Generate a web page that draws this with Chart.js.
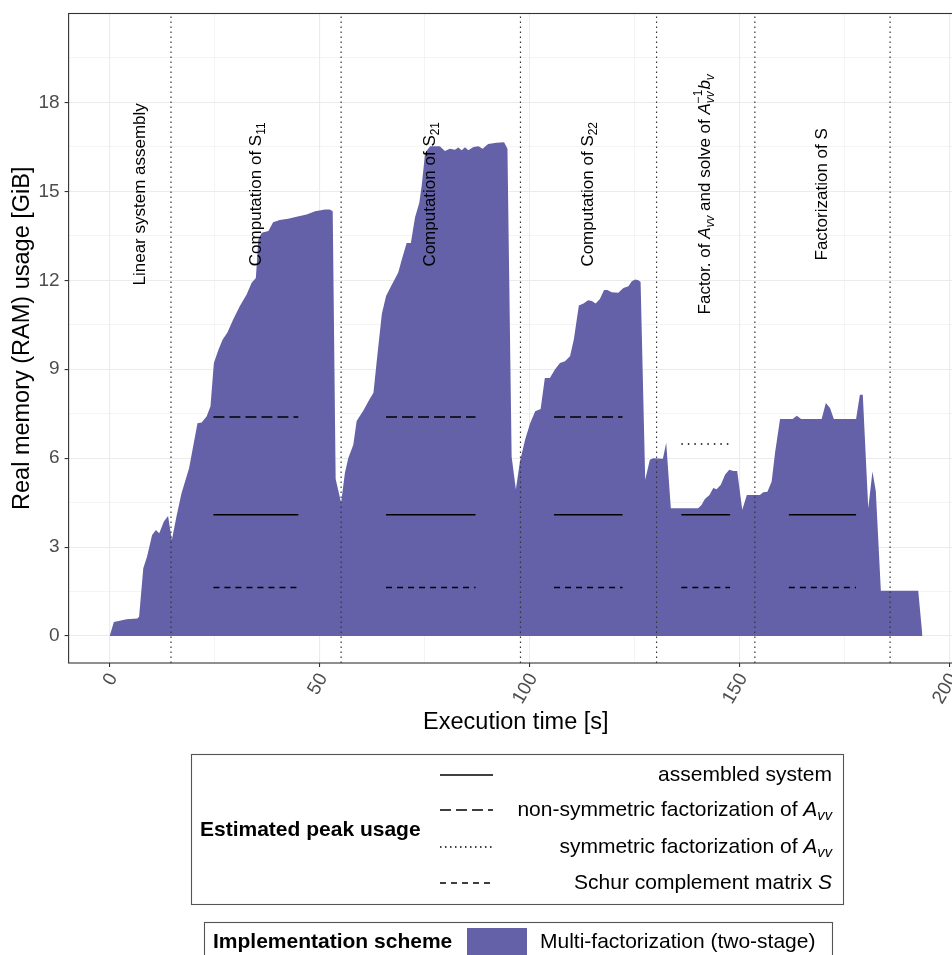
<!DOCTYPE html>
<html>
<head>
<meta charset="utf-8">
<script src="https://cdn.jsdelivr.net/npm/chart.js@4.4.0/dist/chart.umd.min.js"></script>
<style>
html,body{margin:0;padding:0;background:#fff;overflow:hidden;}
canvas{display:block;}
</style>
</head>
<body>
<canvas id="memChart" width="980" height="955"></canvas>
<script>
// memory trace
const timeS = [0.1, 1.1, 3.3, 4.1, 6.7, 7.1, 8.1, 9.0, 10.2, 11.1, 11.9, 13.0, 14.0, 14.9, 16.0, 17.2, 19.0, 21.0, 22.0, 23.2,
  24.1, 24.9, 26.0, 27.0, 28.1, 29.5, 31.1, 32.7, 33.9, 34.9, 35.5, 36.3, 37.9, 39.0, 40.6, 42.6, 44.6, 47.0, 49.0, 51.4,
  52.5, 53.2, 53.9, 55.2, 56.1, 56.9, 58.1, 58.9, 60.5, 61.9, 62.9, 63.7, 64.9, 65.9, 67.2, 68.8, 69.6, 70.8, 71.8, 72.8,
  73.8, 74.4, 75.2, 76.4, 78.7, 79.9, 81.1, 82.3, 83.1, 83.9, 84.7, 85.5, 86.7, 87.9, 88.9, 90.2, 92.2, 94.0, 94.8, 95.8,
  96.8, 97.8, 99.0, 100.2, 101.4, 102.7, 103.7, 104.9, 106.1, 107.3, 108.5, 109.7, 110.6, 111.8, 112.9, 114.0, 114.9, 115.8, 116.8, 117.8,
  118.6, 119.6, 121.2, 122.4, 123.6, 124.4, 125.2, 126.0, 126.5, 127.6, 128.7, 129.5, 131.8, 132.6, 133.7, 140.2, 141.0, 141.8, 142.9, 143.8,
  144.6, 145.6, 146.6, 147.6, 148.6, 149.5, 150.7, 151.8, 154.9, 155.7, 156.7, 157.7, 158.5, 159.7, 162.7, 163.7, 164.7, 169.6, 170.6, 171.6,
  172.5, 177.8, 178.7, 179.4, 180.7, 181.7, 182.5, 183.7, 192.6, 193.6];
const ramGiB = [0, 0.47, 0.54, 0.57, 0.59, 0.65, 2.29, 2.68, 3.41, 3.58, 3.47, 3.86, 4.05, 3.24, 4.03, 4.82, 5.66, 7.18, 7.2, 7.41,
  7.75, 9.21, 9.66, 10.0, 10.23, 10.68, 11.13, 11.52, 11.92, 12.08, 13.38, 13.6, 13.66, 13.96, 14.03, 14.08, 14.14, 14.22, 14.33, 14.39,
  14.39, 14.33, 5.3, 4.5, 5.5, 6.0, 6.45, 7.25, 7.61, 7.97, 8.21, 9.3, 10.87, 11.47, 11.83, 12.26, 12.68, 13.26, 13.26, 14.13,
  14.61, 15.21, 16.3, 16.52, 16.52, 16.36, 16.44, 16.4, 16.48, 16.39, 16.49, 16.39, 16.5, 16.52, 16.44, 16.6, 16.64, 16.66, 16.44, 6.05,
  4.95, 5.9, 6.62, 7.18, 7.58, 7.66, 8.7, 8.7, 8.99, 9.21, 9.27, 9.44, 10.0, 11.15, 11.22, 11.33, 11.3, 11.22, 11.37, 11.67,
  11.67, 11.6, 11.58, 11.74, 11.8, 11.97, 12.03, 12.0, 11.94, 5.27, 5.95, 6.0, 5.98, 6.52, 4.31, 4.31, 4.42, 4.62, 4.76, 4.99,
  4.95, 5.1, 5.44, 5.61, 5.57, 5.57, 4.26, 4.76, 4.76, 4.85, 4.87, 5.21, 6.17, 7.32, 7.32, 7.43, 7.32, 7.32, 7.86, 7.69,
  7.32, 7.32, 8.14, 8.14, 4.31, 5.55, 4.88, 1.53, 1.53, 0];

// phase boundaries (dotted verticals) and label positions
const phaseBounds = [14.7, 55.2, 97.9, 130.3, 153.7, 185.9];
const phaseLabelX = [7.3, 35.0, 76.5, 114.1, 142.0, 169.8];
const phaseLabelY = 14.9;
const phaseLabels = [
  [['Linear system assembly', '']],
  [['Computation of S', ''], ['11', 'b']],
  [['Computation of S', ''], ['21', 'b']],
  [['Computation of S', ''], ['22', 'b']],
  [['Factor. of ', ''], ['A', 'i'], ['vv', 'ib'], [' and solve of ', ''], ['A', 'i'], ['vv', 'ib'], ['\u22121', 'pk'], ['b', 'i'], ['v', 'ib']],
  [['Factorization of S', '']]
];

// estimated peak usage segments
const segStart = [24.8, 65.9, 105.9, 136.2, 161.8];
const segEnd = [45.0, 87.2, 122.2, 147.8, 177.8];
const peakAssembled = 4.09;
const peakNonSym = 7.39;
const peakSym = 6.48;
const peakSchur = 1.64;
const assembledSegs = [0, 1, 2, 3, 4];
const nonSymSegs = [0, 1, 2];
const symSegs = [3];
const schurSegs = [0, 1, 2, 3, 4];

const xTicks = [0, 50, 100, 150, 200];
const xMinor = [25, 75, 125, 175];
const yTicks = [0, 3, 6, 9, 12, 15, 18];
const yMinor = [1.5, 4.5, 7.5, 10.5, 13.5, 16.5, 19.5];
const xRange = [-9.68, 203.28];
const yRange = [-0.91, 21.0];

const FAMILY = '"Liberation Sans", Arial, Helvetica, sans-serif';
const FILL = '#6461a8';
Chart.defaults.font.family = FAMILY;

function segData(ids, v) {
  const out = [];
  ids.forEach(i => {
    out.push({x: segStart[i], y: v}, {x: segEnd[i], y: v}, {x: segEnd[i], y: null});
  });
  return out;
}

function layoutRich(ctx, parts, size) {
  let x = 0, prev = null;
  const items = [];
  for (const [t, f] of parts) {
    const small = f.includes('b') || f.includes('p');
    const fs = small ? size * 0.7 : size;
    const font = (f.includes('i') ? 'italic ' : '') + (f.includes('w') ? 'bold ' : '') + fs + 'px ' + FAMILY;
    ctx.font = font;
    const w = ctx.measureText(t).width;
    let sx = x;
    if (f.includes('k') && prev) {
      sx = prev.x;
      x = Math.max(prev.x + prev.w, sx + w);
    } else {
      x += w;
    }
    const dy = f.includes('b') ? size * 0.3 : f.includes('p') ? -size * 0.42 : 0;
    prev = {t, font, x: sx, w, dy};
    items.push(prev);
  }
  return {items, width: x};
}

function drawRich(ctx, parts, size, x, y, align, angle, color) {
  ctx.save();
  ctx.translate(x, y);
  ctx.rotate(angle || 0);
  const L = layoutRich(ctx, parts, size);
  const off = align === 'center' ? -L.width / 2 : align === 'right' ? -L.width : 0;
  ctx.fillStyle = color || '#000';
  ctx.textBaseline = 'middle';
  ctx.textAlign = 'left';
  for (const it of L.items) {
    ctx.font = it.font;
    ctx.fillText(it.t, off + it.x, it.dy);
  }
  ctx.restore();
}

const legendKeys = [
  {dash: [], label: [['assembled system', '']]},
  {dash: [11, 5], label: [['non-symmetric factorization of ', ''], ['A', 'i'], ['vv', 'ib']]},
  {dash: [1.5, 3.5], label: [['symmetric factorization of ', ''], ['A', 'i'], ['vv', 'ib']]},
  {dash: [6, 5], label: [['Schur complement matrix ', ''], ['S', 'i']]}
];

const decorPlugin = {
  id: 'decor',
  afterDatasetsDraw(chart) {
    const {ctx, chartArea: a, scales: {x, y}} = chart;
    phaseLabels.forEach((parts, i) => {
      drawRich(ctx, parts, 17, x.getPixelForValue(phaseLabelX[i]), y.getPixelForValue(phaseLabelY), 'center', -Math.PI / 2, '#000');
    });
    ctx.save();
    ctx.strokeStyle = '#333';
    ctx.lineWidth = 1.1;
    ctx.strokeRect(a.left, a.top, a.right - a.left, a.bottom - a.top);
    // x tick labels, rotated 60 degrees and anchored just right of the tick
    ctx.fillStyle = '#4d4d4d';
    ctx.font = '19px ' + FAMILY;
    ctx.textAlign = 'right';
    ctx.textBaseline = 'middle';
    xTicks.forEach(v => {
      ctx.save();
      ctx.translate(x.getPixelForValue(v) + 4, a.bottom + 12);
      ctx.rotate(-Math.PI / 3);
      ctx.fillText(String(v), 0, 0);
      ctx.restore();
    });
    ctx.restore();
  },
  afterDraw(chart) {
    const ctx = chart.ctx;
    ctx.save();
    // legend 1
    ctx.strokeStyle = '#555';
    ctx.lineWidth = 1.1;
    ctx.strokeRect(191.5, 754.5, 652, 150);
    drawRich(ctx, [['Estimated peak usage', 'w']], 21, 200, 830, 'left', 0, '#000');
    const ys = [775, 810, 847, 883];
    legendKeys.forEach((k, i) => {
      ctx.save();
      ctx.strokeStyle = '#000';
      ctx.lineWidth = 1.5;
      ctx.setLineDash(k.dash);
      ctx.beginPath();
      ctx.moveTo(440, ys[i]);
      ctx.lineTo(493, ys[i]);
      ctx.stroke();
      ctx.restore();
      drawRich(ctx, k.label, 21, 832, ys[i], 'right', 0, '#000');
    });
    // legend 2
    ctx.strokeStyle = '#555';
    ctx.strokeRect(204.5, 922.5, 628, 60);
    drawRich(ctx, [['Implementation scheme', 'w']], 21, 213, 942, 'left', 0, '#000');
    ctx.fillStyle = FILL;
    ctx.fillRect(467, 928, 60, 28);
    drawRich(ctx, [['Multi-factorization (two-stage)', '']], 21, 540, 942, 'left', 0, '#000');
    ctx.restore();
  }
};

const gridColor = '#ebebeb';

new Chart(document.getElementById('memChart'), {
  type: 'line',
  data: {
    datasets: [
      {
        label: 'assembled system',
        data: segData(assembledSegs, peakAssembled),
        borderColor: '#000', borderWidth: 1.5, pointRadius: 0, spanGaps: false, order: 0
      },
      {
        label: 'non-symmetric factorization',
        data: segData(nonSymSegs, peakNonSym),
        borderColor: '#000', borderWidth: 1.5, borderDash: [11, 5], pointRadius: 0, spanGaps: false, order: 0
      },
      {
        label: 'symmetric factorization',
        data: segData(symSegs, peakSym),
        borderColor: '#000', borderWidth: 1.5, borderDash: [1.5, 5], pointRadius: 0, spanGaps: false, order: 0
      },
      {
        label: 'Schur complement',
        data: segData(schurSegs, peakSchur),
        borderColor: '#000', borderWidth: 1.5, borderDash: [6, 5], pointRadius: 0, spanGaps: false, order: 0
      },
      {
        label: 'phases',
        data: phaseBounds.flatMap(b => [{x: b, y: yRange[0]}, {x: b, y: yRange[1]}, {x: b, y: null}]),
        borderColor: '#333', borderWidth: 1.2, borderDash: [1.5, 3.5], pointRadius: 0, spanGaps: false, order: 1
      },
      {
        label: 'Multi-factorization (two-stage)',
        data: timeS.map((t, i) => ({x: t, y: ramGiB[i]})),
        borderWidth: 0, borderColor: 'rgba(0,0,0,0)', backgroundColor: FILL,
        fill: 'origin', pointRadius: 0, tension: 0, order: 10
      }
    ]
  },
  options: {
    responsive: false,
    animation: false,
    events: [],
    layout: {padding: {left: 0, top: 13.5, right: 980 - 963.1, bottom: 0}},
    plugins: {legend: {display: false}, tooltip: {enabled: false}},
    scales: {
      x: {
        type: 'linear',
        min: xRange[0], max: xRange[1],
        afterBuildTicks: s => { s.ticks = [...xTicks, ...xMinor].sort((a, b) => a - b).map(v => ({value: v})); },
        afterFit: s => { s.height = 955 - 663; s.paddingLeft = 0; s.paddingRight = 0; },
        border: {display: false},
        grid: {
          color: gridColor,
          lineWidth: c => (c.tick && xTicks.includes(c.tick.value)) ? 1.1 : 0.55,
          tickColor: c => (c.tick && xTicks.includes(c.tick.value)) ? '#333' : 'rgba(0,0,0,0)',
          tickLength: 4, tickWidth: 1.1
        },
        ticks: {display: false, autoSkip: false},
        title: {
          display: true, text: 'Execution time [s]', color: '#000',
          font: {size: 23.5}, padding: {top: 0, bottom: 218}
        }
      },
      y: {
        type: 'linear',
        min: yRange[0], max: yRange[1],
        afterBuildTicks: s => { s.ticks = [...yTicks, ...yMinor].sort((a, b) => a - b).map(v => ({value: v})); },
        afterFit: s => { s.width = 68.6; s.paddingTop = 0; s.paddingBottom = 0; },
        border: {display: false},
        grid: {
          color: gridColor,
          lineWidth: c => (c.tick && yTicks.includes(c.tick.value)) ? 1.1 : 0.55,
          tickColor: c => (c.tick && yTicks.includes(c.tick.value)) ? '#333' : 'rgba(0,0,0,0)',
          tickLength: 4, tickWidth: 1.1
        },
        ticks: {
          autoSkip: false, padding: 5,
          color: '#4d4d4d', font: {size: 19},
          callback: v => yTicks.includes(v) ? String(v) : ''
        },
        title: {
          display: true, text: 'Real memory (RAM) usage [GiB]', color: '#000',
          font: {size: 23.5}, padding: {top: 8, bottom: 0}
        }
      }
    }
  },
  plugins: [decorPlugin]
});
</script>
</body>
</html>
